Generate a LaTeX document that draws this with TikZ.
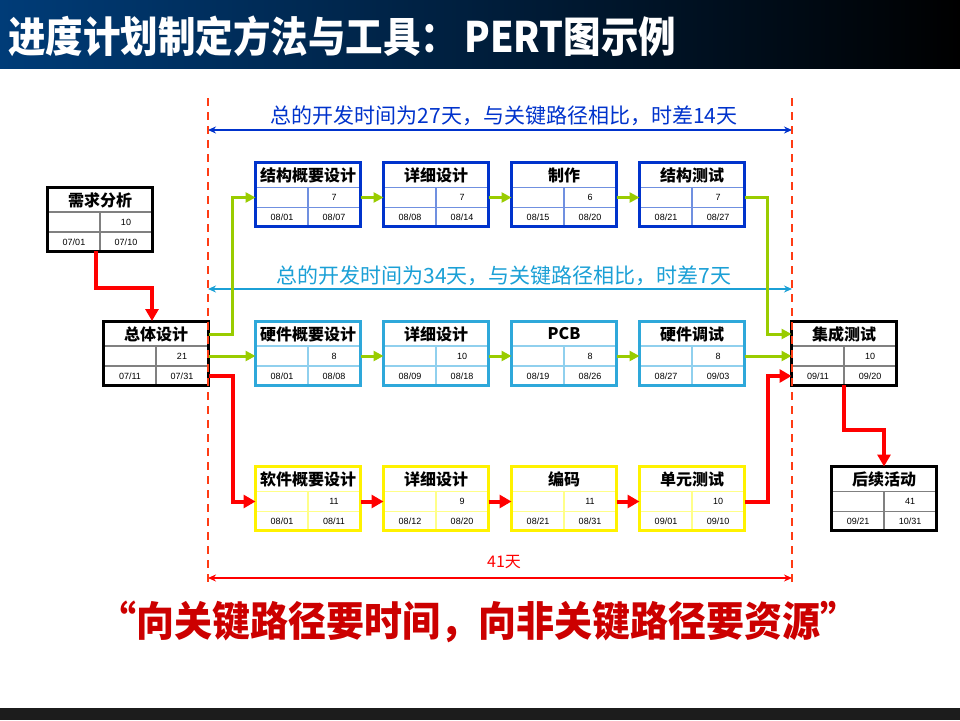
\documentclass[tikz,border=0pt]{standalone}
\usepackage{fontspec}
\setmainfont{Liberation Sans}
\newfontfamily\cjk{Noto Sans CJK SC}
\usetikzlibrary{arrows.meta}
\definecolor{hdrblue}{HTML}{003C78}
\definecolor{hdrmid}{HTML}{00254F}
\definecolor{barblack}{HTML}{1C1C1C}
\definecolor{flowgreen}{HTML}{99CC00}
\definecolor{cutred}{HTML}{FF3C14}
\definecolor{darkblue}{HTML}{0033CC}
\definecolor{paleblue}{HTML}{7090E0}
\definecolor{skyblue}{HTML}{2EA8DA}
\definecolor{paleskyblue}{HTML}{90D0EE}
\definecolor{paleyellow}{HTML}{FFFF88}
\definecolor{gridgray}{HTML}{808080}
\definecolor{quotered}{HTML}{CC0000}
\definecolor{span27}{HTML}{0033CC}
\definecolor{span34}{HTML}{1BA0D6}

\newcommand{\pertnode}[8]{%
        \node[pertbox] (#1) at (#2) {};
        \draw[line width=1.5pt, draw=#3] ([yshift=-25pt]#1.north west) -- ([yshift=-25pt]#1.north east)
                ([yshift=-45pt]#1.north west) -- ([yshift=-45pt]#1.north east)
                ([yshift=-25pt]#1.north) -- (#1.south);
        \draw[line width=3pt, draw=#4] (#1.south west) rectangle (#1.north east);
        \node[boxtitle] (#1-name) at ([yshift=-13pt]#1.north) {#5};
        \node[boxnum] (#1-dur) at ([xshift=26pt, yshift=-35pt]#1.north) {#6};
        \node[boxnum] (#1-start) at ([xshift=-26pt, yshift=-55pt]#1.north) {#7};
        \node[boxnum] (#1-end) at ([xshift=26pt, yshift=-55pt]#1.north) {#8};
        \coordinate (#1-tw) at ([yshift=-13pt]#1.north west);
        \coordinate (#1-te) at ([yshift=-13pt]#1.north east);
        \coordinate (#1-in) at ([yshift=-35pt]#1.north west);
        \coordinate (#1-out) at ([yshift=-35pt]#1.north east);
        \coordinate (#1-bw) at ([yshift=-55pt]#1.north west);
        \coordinate (#1-be) at ([yshift=-55pt]#1.north east);
}

\begin{document}
\begin{tikzpicture}[x=1pt, y=-1pt,
        pertbox/.style={rectangle, fill=white, minimum width=105pt, minimum height=64pt, inner sep=0pt, outer sep=0pt},
        boxtitle/.style={font=\cjk\bfseries\fontsize{16}{16}\selectfont, inner sep=0pt},
        boxnum/.style={font=\fontsize{9}{9}\selectfont, inner sep=0pt},
        greenarrow/.style={draw=flowgreen, line width=3pt, -{Triangle[length=10pt, width=10pt]}},
        redarrow/.style={draw=red, line width=4pt, -{Triangle[length=12pt, width=13pt]}},
        cutline/.style={draw=cutred, line width=2pt, dash pattern=on 8pt off 6pt},
        span/.style={line width=2pt, {Stealth[length=8pt, width=7pt]}-{Stealth[length=8pt, width=7pt]}}]
        \useasboundingbox (0,0) rectangle (960,720);
        \fill[white] (0,0) rectangle (960,720);
        \shade[left color=hdrblue, middle color=hdrmid, right color=black] (0,0) rectangle (960,68);
        \fill[barblack] (0,708) rectangle (960,720);
        \node[anchor=west, text=white, inner sep=0pt, font=\cjk\bfseries\fontsize{37.5}{37.5}\selectfont] (title) at (8,36) {\scalebox{1}[1.12]{进度计划制定方法与工具：\,PERT图示例}};

        \pertnode{req}{100,219}{gridgray}{black}{需求分析}{10}{07/01}{07/10}
        \pertnode{sys}{156,353}{gridgray}{black}{总体设计}{21}{07/11}{07/31}
        \pertnode{s1}{308,194.5}{paleblue}{darkblue}{结构概要设计}{7}{08/01}{08/07}
        \pertnode{s2}{436,194.5}{paleblue}{darkblue}{详细设计}{7}{08/08}{08/14}
        \pertnode{s3}{564,194.5}{paleblue}{darkblue}{制作}{6}{08/15}{08/20}
        \pertnode{s4}{692,194.5}{paleblue}{darkblue}{结构测试}{7}{08/21}{08/27}
        \pertnode{h1}{308,353}{paleskyblue}{skyblue}{硬件概要设计}{8}{08/01}{08/08}
        \pertnode{h2}{436,353}{paleskyblue}{skyblue}{详细设计}{10}{08/09}{08/18}
        \pertnode{h3}{564,353}{paleskyblue}{skyblue}{PCB}{8}{08/19}{08/26}
        \pertnode{h4}{692,353}{paleskyblue}{skyblue}{硬件调试}{8}{08/27}{09/03}
        \pertnode{w1}{308,498.5}{paleyellow}{yellow}{软件概要设计}{11}{08/01}{08/11}
        \pertnode{w2}{436,498.5}{paleyellow}{yellow}{详细设计}{9}{08/12}{08/20}
        \pertnode{w3}{564,498.5}{paleyellow}{yellow}{编码}{11}{08/21}{08/31}
        \pertnode{w4}{692,498.5}{paleyellow}{yellow}{单元测试}{10}{09/01}{09/10}
        \pertnode{int}{844,353}{gridgray}{black}{集成测试}{10}{09/11}{09/20}
        \pertnode{fol}{884,498.5}{gridgray}{black}{后续活动}{41}{09/21}{10/31}

        \coordinate (la) at (208,98);
        \coordinate (lb) at (208,582);
        \coordinate (ra) at (792,98);
        \coordinate (rb) at (792,582);
        \coordinate (d27l) at (208,130);
        \coordinate (d27r) at (792,130);
        \coordinate (d34l) at (208,289);
        \coordinate (d34r) at (792,289);
        \coordinate (d41l) at (208,578);
        \coordinate (d41r) at (792,578);
        \draw[span, span27] (d27l) -- (d27r);
        \draw[span, span34] (d34l) -- (d34r);
        \draw[span, red] (d41l) -- (d41r);
        \node[text=span27, font=\cjk\fontsize{21}{21}\selectfont] (lbl27) at (504,116) {总的开发时间为27天，与关键路径相比，时差14天};
        \node[text=span34, font=\cjk\fontsize{21}{21}\selectfont] (lbl34) at (504,276) {总的开发时间为34天，与关键路径相比，时差7天};
        \node[text=red, font=\cjk\fontsize{16}{16}\selectfont] (lbl41) at (504,562) {41天};

        \draw[redarrow] ([xshift=-4pt]req.south) -- ++(0,37) -| ([xshift=-4pt]sys.north);
        \draw[greenarrow] (sys-te) -- ++(24,0) |- (s1-in);
        \draw[greenarrow] (sys-out) -- (h1-in);
        \draw[redarrow] (sys-be) -- ++(24,0) |- (w1-in);
        \draw[greenarrow] (s1-out) -- (s2-in);
        \draw[greenarrow] (s2-out) -- (s3-in);
        \draw[greenarrow] (s3-out) -- (s4-in);
        \draw[greenarrow] (h1-out) -- (h2-in);
        \draw[greenarrow] (h2-out) -- (h3-in);
        \draw[greenarrow] (h3-out) -- (h4-in);
        \draw[redarrow] (w1-out) -- (w2-in);
        \draw[redarrow] (w2-out) -- (w3-in);
        \draw[redarrow] (w3-out) -- (w4-in);
        \draw[greenarrow] (s4-out) -- ++(23,0) |- (int-tw);
        \draw[greenarrow] (h4-out) -- (int-in);
        \draw[redarrow] (w4-out) -- ++(23,0) |- (int-bw);
        \draw[redarrow] (int.south) -- ++(0,45) -| (fol.north);

        \draw[cutline] (la) -- (lb);
        \draw[cutline] (ra) -- (rb);

        \node[text=quotered, font=\cjk\bfseries\fontsize{38}{38}\selectfont] (motto) at (478,622) {\scalebox{1}[1.08]{“向关键路径要时间，向非关键路径要资源”}};
\end{tikzpicture}
\end{document}
